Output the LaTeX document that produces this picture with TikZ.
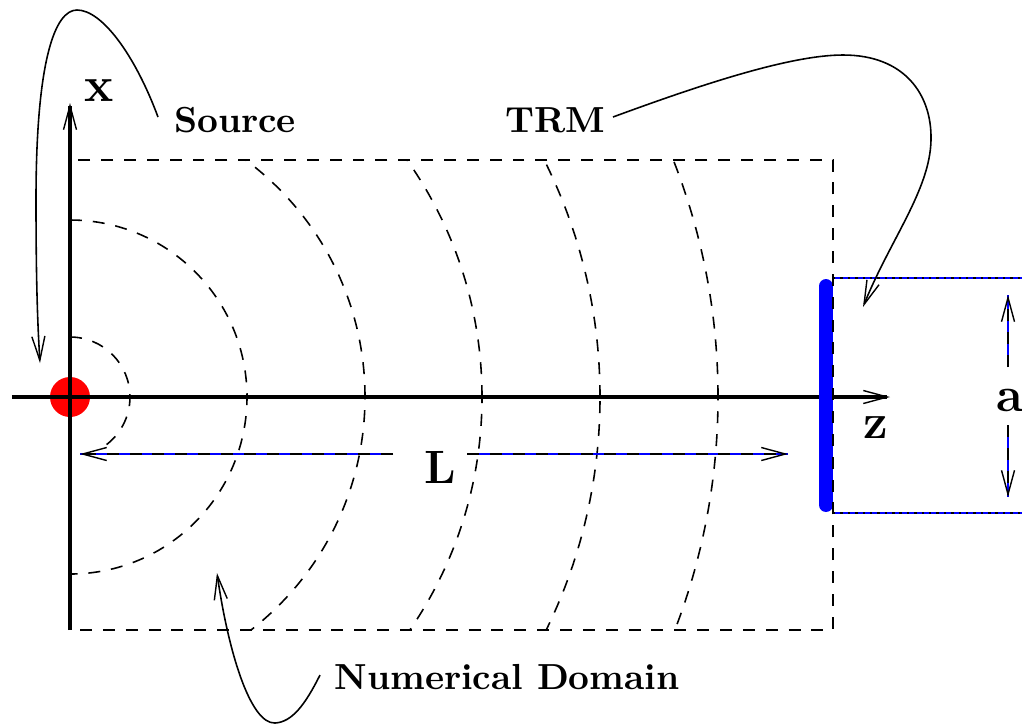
\documentclass[tikz,border=0pt]{standalone}
\usetikzlibrary{arrows.meta}
\begin{document}
\begin{tikzpicture}[x=0.01cm,y=0.01cm,
  barb/.style={-{Straight Barb[length=2.4mm,width=1.3mm,line width=0.4pt]}},
  axisline/.style={line width=0.95pt,barb},
  thin/.style={line width=0.45pt},
  rectdash/.style={thin,dash pattern=on 3.4pt off 3.1pt},
  bluebase/.style={blue,line width=0.45pt},
  dotblack/.style={black,line width=0.45pt,dash pattern=on 0.7pt off 1.4pt},
  lbl/.style={inner sep=0pt,font=\fontsize{10.3}{12}\selectfont\bfseries},
  biglbl/.style={inner sep=0pt,font=\fontsize{14}{16}\selectfont\bfseries},
  curve/.style={thin,barb}]
\useasboundingbox (-70,-326) rectangle (952,397);

% source
\fill[red] (0,0) circle (20);

% axes
\coordinate (O) at (0,0);
\coordinate (zs) at (-58,0);
\coordinate (ze) at (820,0);
\coordinate (xs) at (0,-233);
\coordinate (xe) at (0,294);
\draw[axisline] (zs) -- (ze);
\draw[axisline] (xs) -- (xe);

% TRM bar
\coordinate (bt) at (756,111);
\coordinate (bb) at (756,-108);
\draw[blue,line width=3.97pt,line cap=round] (bt) -- (bb);

% numerical domain
\draw[rectdash] (0,237) rectangle (763,-233);
\draw[rectdash] (0,60) arc (90:-55:60);
\draw[rectdash] (0,177) arc (90:-90:177);
\begin{scope}
\clip (0,237) rectangle (763,-233);
\foreach \r in {295,412,530,648}
  \draw[rectdash] (0,0) circle (\r);
\end{scope}

% aperture lines
\coordinate (ht1) at (763,119);
\coordinate (ht2) at (952,119);
\coordinate (hb1) at (763,-116);
\coordinate (hb2) at (952,-116);
\draw[bluebase] (ht1) -- (ht2);
\draw[dotblack] (ht1) -- (ht2);
\draw[bluebase] (hb1) -- (hb2);
\draw[dotblack] (hb1) -- (hb2);

% a dimension
\node[biglbl] (alab) at (940,-3) {a};
\coordinate (au1) at (938,30);
\coordinate (au2) at (938,102);
\coordinate (ad1) at (938,-28);
\coordinate (ad2) at (938,-100);
\draw[bluebase] (au1) -- (au2);
\draw[rectdash,barb] (au1) -- (au2);
\draw[bluebase] (ad1) -- (ad2);
\draw[rectdash,barb] (ad1) -- (ad2);

% L dimension
\node[inner sep=0pt,font=\fontsize{13.3}{15}\selectfont\bfseries] (Llab) at (370,-70) {L};
\coordinate (l1) at (323,-57);
\coordinate (l1t) at (10,-57);
\coordinate (l2) at (397,-57);
\coordinate (l2t) at (718,-57);
\draw[bluebase] (l1) -- (l1t);
\draw[rectdash,barb] (l1) -- (l1t);
\draw[bluebase] (l2) -- (l2t);
\draw[rectdash,barb] (l2) -- (l2t);

% labels
\node[biglbl] (xlab) at (29,306) {x};
\node[biglbl] (zlab) at (806,-31) {z};
\node[lbl] (src) at (165,277) {Source};
\node[lbl] (trm) at (485,277) {TRM};
\node[lbl] (nd) at (437,-280) {Numerical Domain};

% pointer curves
\coordinate (sc0) at (88,280);
\coordinate (sc1) at (7,387);
\coordinate (sc2) at (-34,197);
\coordinate (sct) at (-30,34);
\draw[curve] (sc0) .. controls (65,342) and (32,387) .. (sc1)
  .. controls (-15,387) and (-34,337) .. (sc2)
  .. controls (-34,107) and (-32,67) .. (sct);

\coordinate (tc0) at (543,280);
\coordinate (tc1) at (773,342);
\coordinate (tc2) at (861,257);
\coordinate (tct) at (793,90);
\draw[curve] (tc0) .. controls (630,312) and (720,342) .. (tc1)
  .. controls (835,342) and (862,302) .. (tc2)
  .. controls (860,207) and (820,157) .. (tct);

\coordinate (nc0) at (250,-278);
\coordinate (nc1) at (205,-326);
\coordinate (nct) at (147,-176);
\draw[curve] (nc0) .. controls (235,-308) and (222,-325) .. (nc1)
  .. controls (180,-327) and (158,-253) .. (nct);
\end{tikzpicture}
\end{document}
